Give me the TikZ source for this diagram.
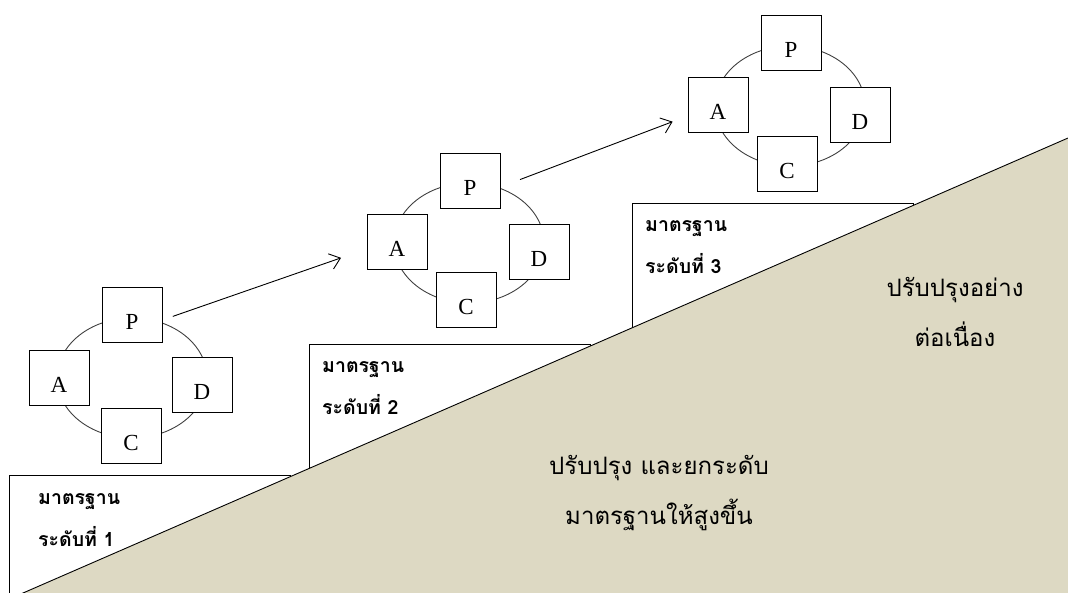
\documentclass[tikz,border=0pt]{standalone}
\usepackage{fontspec}
\setmainfont{Liberation Serif}
\newfontfamily\thaifont[Script=Thai]{Loma}
\usetikzlibrary{arrows.meta}
\definecolor{slope}{HTML}{DDD9C3}

\begin{document}
\begin{tikzpicture}[x=1pt, y=-1pt,
  >={Straight Barb[length=10pt, width=16pt]},
  cyc/.style={draw=black!75, line width=0.9pt},
  pdca/.style={draw, fill=white, line width=0.9pt, inner sep=0pt, minimum width=60pt,
    text height=42pt, text depth=13pt, font=\fontsize{23}{26}\selectfont},
  stdbox/.style={draw, fill=white, line width=0.9pt},
  stdtext/.style={anchor=west, align=left, inner sep=0pt, font=\thaifont\bfseries\fontsize{19.5}{42}\selectfont},
  bigtext/.style={align=center, font=\thaifont\fontsize{24}{50}\selectfont}]
\useasboundingbox (0,0) rectangle (1068,593);
% Standard levels
\draw[stdbox] (9,475) rectangle (290,610);
\draw[stdbox] (309,344) rectangle (590,610);
\draw[stdbox] (632,203) rectangle (913,610);
% Slope
\fill[slope] (-16,610) -- (1080,132.8) -- (1080,610) -- cycle;
\draw[line width=0.9pt] (-16,610) -- (1080,132.8);
\node[stdtext] (S1) at (38,520) {มาตรฐาน\\ระดับที่ 1};
\node[stdtext] (S2) at (322,388) {มาตรฐาน\\ระดับที่ 2};
\node[stdtext] (S3) at (645,247) {มาตรฐาน\\ระดับที่ 3};
\node[bigtext] (T1) at (955,312) {ปรับปรุงอย่าง\\ต่อเนื่อง};
\node[bigtext] (T2) at (659,493) {ปรับปรุง และยกระดับ\\มาตรฐานให้สูงขึ้น};
% PDCA 1
\draw[cyc] (132,378) ellipse [x radius=75pt, y radius=60pt];
\node[pdca] (P1) at (132,315) {P};
\node[pdca] (A1) at (59,378) {A};
\node[pdca] (D1) at (202,385) {D};
\node[pdca] (C1) at (131,436) {C};
% PDCA 2
\draw[cyc] (469,243) ellipse [x radius=75pt, y radius=60pt];
\node[pdca] (P2) at (470,181) {P};
\node[pdca] (A2) at (397,242) {A};
\node[pdca] (D2) at (539,252) {D};
\node[pdca] (C2) at (466,300) {C};
% PDCA 3
\draw[cyc] (790,106) ellipse [x radius=75pt, y radius=60pt];
\node[pdca] (P3) at (791,43) {P};
\node[pdca] (A3) at (718,105) {A};
\node[pdca] (D3) at (860,115) {D};
\node[pdca] (C3) at (787,164) {C};
\draw[->, line width=0.9pt, shorten <=11pt, shorten >=27pt] ([yshift=-5pt]P1.east) -- ([yshift=-7pt]A2.west);
\draw[->, line width=0.9pt, shorten <=21pt, shorten >=16pt] ([yshift=-6pt]P2.east) -- ([yshift=-11pt]A3.west);
\end{tikzpicture}
\end{document}
